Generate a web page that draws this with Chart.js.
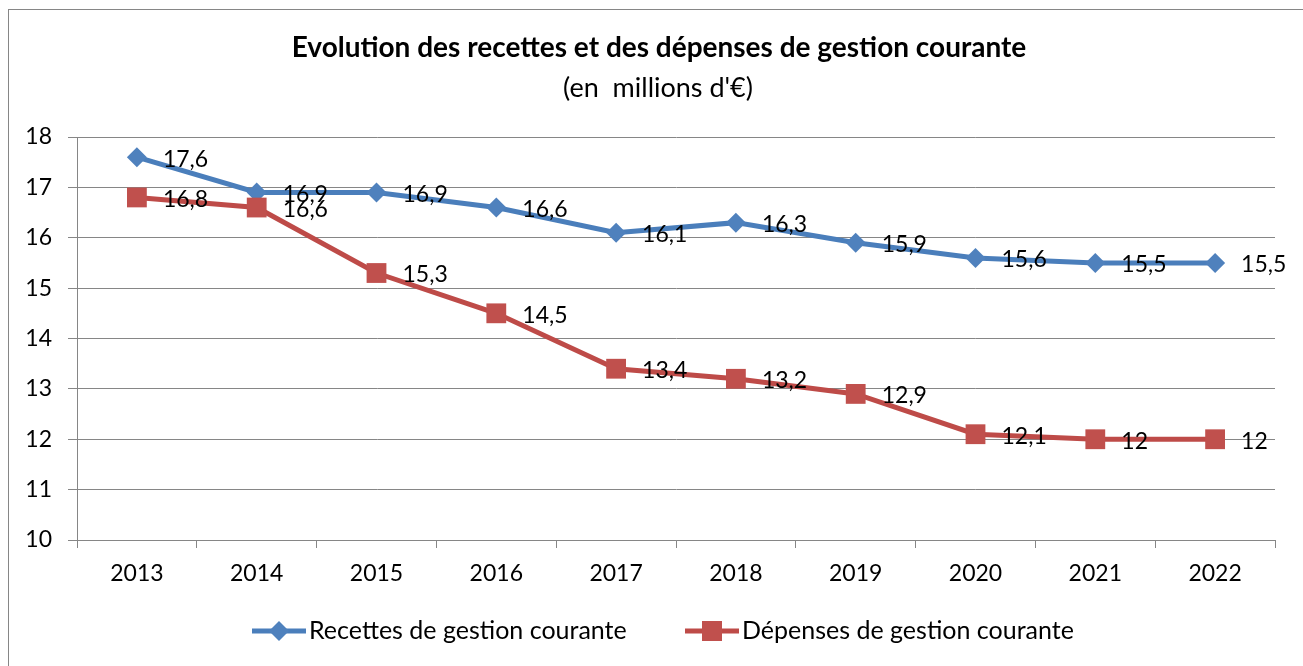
<!DOCTYPE html>
<html><head><meta charset="utf-8">
<script src="https://cdn.jsdelivr.net/npm/chart.js@4/dist/chart.umd.min.js"></script>
<style>html,body{margin:0;padding:0;background:#fff}#wrap{width:1303px;height:666px}</style>
</head><body><div id="wrap"><canvas id="c" width="1303" height="666"></canvas></div>
<script>
const categories = ['2013','2014','2015','2016','2017','2018','2019','2020','2021','2022'];
const recettes = [17.6, 16.9, 16.9, 16.6, 16.1, 16.3, 15.9, 15.6, 15.5, 15.5];
const depenses = [16.8, 16.6, 15.3, 14.5, 13.4, 13.2, 12.9, 12.1, 12, 12];
const seriesNames = ['Recettes de gestion courante', 'Dépenses de gestion courante'];
const yMin = 10, yMax = 18, yStep = 1;
const titleText = 'Evolution des recettes et des dépenses de gestion courante';
const subtitleText = "(en  millions d'€)";

const FONT = 'Lato';
const GRID = '#868686';
const BLUE_LINE = '#4A7EBB', BLUE_MARK = '#4F81BD';
const RED_LINE = '#BE4B48', RED_MARK = '#C0504D';

const fmt = v => String(v).replace('.', ',');

const framePlugin = {
  id: 'frame',
  beforeDraw(chart) {
    const ctx = chart.ctx;
    ctx.save();
    ctx.fillStyle = '#fff';
    ctx.fillRect(0, 0, chart.width, chart.height);
    ctx.strokeStyle = GRID;
    ctx.lineWidth = 1;
    ctx.strokeRect(8.5, 9.5, 1400, 800);
    ctx.restore();
  },
  afterDraw(chart) {
    const ctx = chart.ctx;
    ctx.save();
    ctx.fillStyle = '#000';
    ctx.textAlign = 'center';
    ctx.textBaseline = 'middle';
    ctx.font = 'bold 28px ' + FONT;
    ctx.fillText(titleText, 659, 48);
    ctx.font = '27px ' + FONT;
    ctx.fillText(subtitleText, 658, 88);
    ctx.restore();
  }
};

const labelPlugin = {
  id: 'pointLabels',
  afterDatasetsDraw(chart) {
    const ctx = chart.ctx;
    ctx.save();
    ctx.font = '23px ' + FONT;
    ctx.fillStyle = '#000';
    ctx.textAlign = 'left';
    ctx.textBaseline = 'middle';
    chart.data.datasets.forEach((ds, i) => {
      const meta = chart.getDatasetMeta(i);
      meta.data.forEach((el, j) => {
        ctx.fillText(fmt(ds.data[j]), el.x + 26, el.y + 2);
      });
    });
    ctx.restore();
  }
};

const legendPlugin = {
  id: 'customLegend',
  afterDraw(chart) {
    const ctx = chart.ctx;
    const y = 631;
    const starts = [252, 685];
    ctx.save();
    chart.data.datasets.forEach((ds, i) => {
      const x0 = starts[i];
      ctx.strokeStyle = ds.borderColor;
      ctx.lineWidth = 5;
      ctx.beginPath();
      ctx.moveTo(x0, y);
      ctx.lineTo(x0 + 54, y);
      ctx.stroke();
      ctx.fillStyle = ds.pointBackgroundColor;
      ctx.beginPath();
      if (ds.pointStyle === 'rect') {
        ctx.rect(x0 + 27 - 10, y - 10, 20, 20);
      } else {
        ctx.moveTo(x0 + 27, y - 10); ctx.lineTo(x0 + 37, y); ctx.lineTo(x0 + 27, y + 10); ctx.lineTo(x0 + 17, y); ctx.closePath();
      }
      ctx.fill();
      ctx.font = '25px ' + FONT;
      ctx.fillStyle = '#000';
      ctx.textAlign = 'left';
      ctx.textBaseline = 'middle';
      ctx.fillText(ds.label, x0 + 57, y);
    });
    ctx.restore();
  }
};

new Chart(document.getElementById('c'), {
  type: 'line',
  data: {
    labels: categories,
    datasets: [
      {
        label: seriesNames[0], data: recettes,
        borderColor: BLUE_LINE, backgroundColor: BLUE_MARK,
        pointBackgroundColor: BLUE_MARK, pointBorderColor: BLUE_MARK,
        borderWidth: 5, pointStyle: 'rectRot', pointRadius: 10, pointBorderWidth: 0,
        tension: 0, order: 1
      },
      {
        label: seriesNames[1], data: depenses,
        borderColor: RED_LINE, backgroundColor: RED_MARK,
        pointBackgroundColor: RED_MARK, pointBorderColor: RED_MARK,
        borderWidth: 5, pointStyle: 'rect', pointRadius: 14, pointBorderWidth: 0,
        tension: 0, order: 0
      }
    ]
  },
  options: {
    responsive: false, animation: false, devicePixelRatio: 1,
    layout: { padding: { left: 8, right: 28, top: 137, bottom: 66 } },
    plugins: {
      legend: { display: false },
      tooltip: { enabled: false },
      title: { display: false },
      subtitle: { display: false }
    },
    scales: {
      x: {
        offset: true,
        grid: { display: true, drawOnChartArea: false, drawTicks: true, tickLength: 8, offset: true, color: GRID },
        border: { display: true, color: GRID },
        ticks: { color: '#000', font: { family: FONT, size: 23 }, padding: 12, maxRotation: 0, autoSkip: false },
        afterFit(s) { s.height = 60; }
      },
      y: {
        min: yMin, max: yMax,
        grid: { color: GRID, tickLength: 9, drawTicks: true },
        border: { display: true, color: GRID },
        ticks: { stepSize: yStep, color: '#000', font: { family: FONT, size: 23 }, padding: 16 },
        afterFit(s) { s.width = 69; }
      }
    }
  },
  plugins: [framePlugin, labelPlugin, legendPlugin]
});
</script>
</body></html>
